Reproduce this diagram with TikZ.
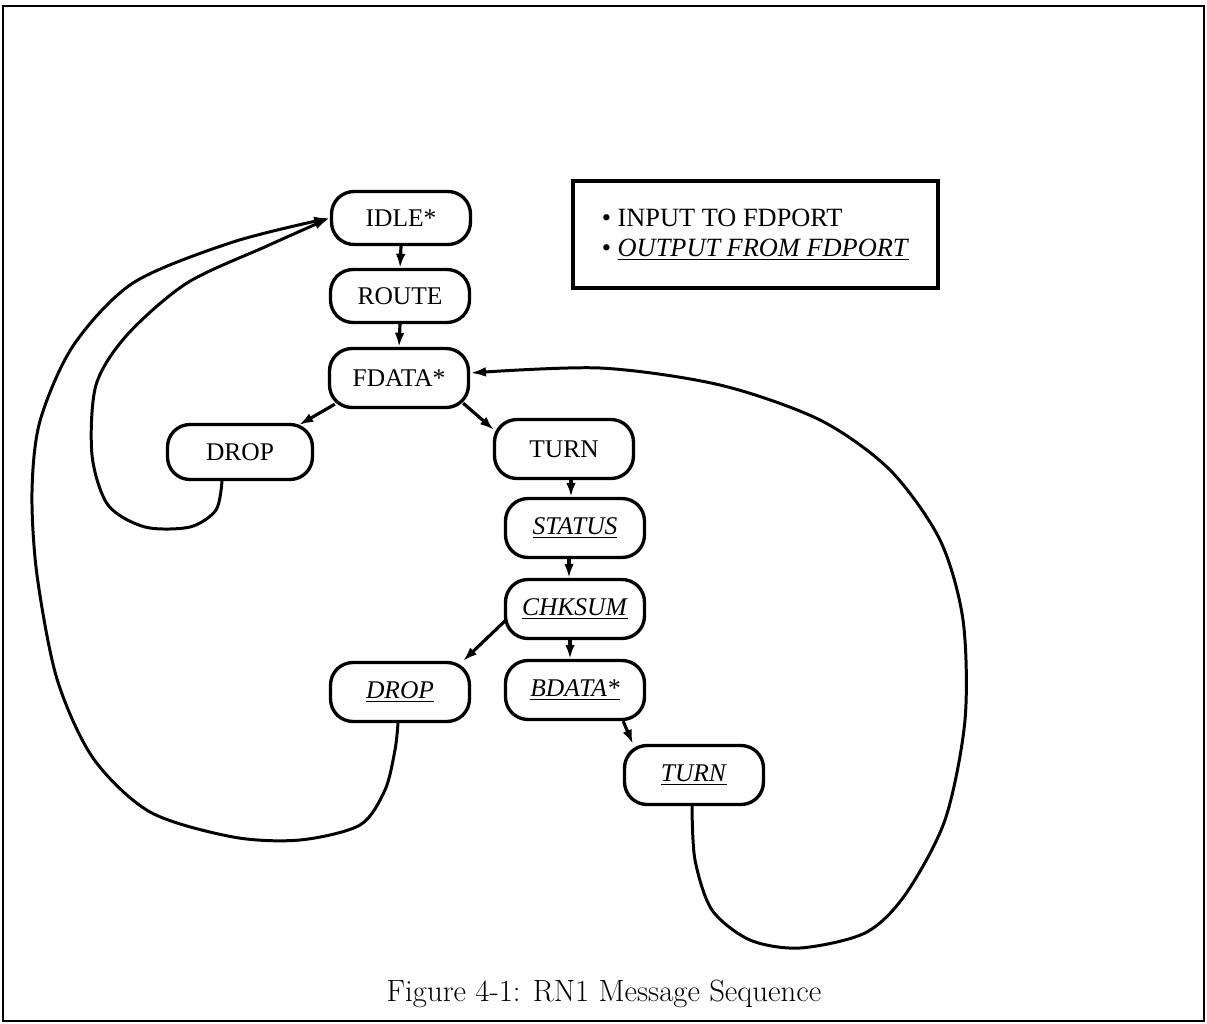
\documentclass[tikz,border=0pt]{standalone}
\usepackage{fontspec}
\usetikzlibrary{arrows.meta}
\newfontfamily\timesfont{Liberation Serif}
\newcommand\outmsg[1]{\underline{\textit{#1}}}

\tikzset{
  msg/.style={draw, line width=1.9pt, rounded corners=0.45cm, minimum width=2.78cm,
    minimum height=1.18cm, font=\timesfont\fontsize{14.5}{16}\selectfont},
  arr/.style={line width=1.8pt, -{Latex[length=8pt,width=5.5pt]}},
  back/.style={line width=1.7pt, -{Latex[length=9pt,width=5.5pt]}}
}

\begin{document}
\begin{tikzpicture}[x=0.02cm, y=-0.02cm]
        \useasboundingbox (0,0) rectangle (1207,1024);
        \draw[line width=1.4pt] (3,6) rectangle (1204,1021);

        \node[msg, minimum height=1.06cm] (idle) at (401,218) {IDLE*};
        \node[msg, minimum height=1.06cm] (route) at (400,296) {ROUTE};
        \node[msg] (fdata) at (399,378) {FDATA*};
        \node[msg, minimum width=2.9cm, minimum height=1.1cm] (drop) at (240,452) {DROP};
        \node[msg] (turn) at (564,449) {TURN};
        \node[msg] (status) at (575,528) {\outmsg{STATUS}};
        \node[msg] (chksum) at (575,609) {\outmsg{CHKSUM}};
        \node[msg] (odrop) at (400,692) {\outmsg{DROP}};
        \node[msg] (bdata) at (575,690) {\outmsg{BDATA*}};
        \node[msg] (oturn) at (694,775) {\outmsg{TURN}};

        \node[draw, line width=1.9pt, minimum width=7.3cm, minimum height=2.14cm, align=left,
          font=\timesfont\fontsize{15}{17}\selectfont] (key) at (755.5,234.5)
          {\textbullet\ INPUT TO FDPORT\\ \textbullet\ \outmsg{OUTPUT FROM FDPORT}};

        \draw[arr] (idle.south) -- (route.north);
        \draw[arr] (route.south) -- (fdata.north);
        \draw[arr] ([shift={(7,-5)}]fdata.south west) -- ([shift={(-15,2)}]drop.north east);
        \draw[arr] ([shift={(-7,-6)}]fdata.south east) -- ([shift={(1,12)}]turn.north west);
        \draw[arr] ([shift={(7,0)}]turn.south) -- ([shift={(-4,0)}]status.north);
        \draw[arr] ([shift={(-6,0)}]status.south) -- ([shift={(-6,0)}]chksum.north);
        \draw[arr] ([shift={(-5,0)}]chksum.south) -- ([shift={(-5,0)}]bdata.north);
        \draw[arr] ([shift={(2,-20)}]chksum.south west) -- ([shift={(-8,0)}]odrop.north east);
        \draw[arr] ([shift={(-23,0)}]bdata.south east) -- ([shift={(10,0)}]oturn.north west);

        % loops back to IDLE* and FDATA*
        \draw[back] plot[smooth] coordinates {([shift={(-18,0)}]drop.south) (216,510) (190,527)
          (145,527) (108,505) (92,455) (96,385) (127,335) (187,283) (267,246) (idle.west)};
        \draw[back] plot[smooth] coordinates {([shift={(-2,0)}]odrop.south) (395,750) (385,790)
          (360,825) (300,840) (233,837) (150,812) (93,758) (57,679) (37,575) (32,492) (40,421)
          (73,346) (133,283) (233,242) (idle.west)};
        \draw[back] plot[smooth] coordinates {([shift={(-2,0)}]oturn.south) (695,860) (712,910)
          (750,940) (800,948) (865,933) (905,895) (945,820) (965,720) (963,620) (940,540)
          (890,470) (820,420) (720,385) (600,368) ([shift={(0,-5)}]fdata.east)};

        \node[font=\fontsize{17.5}{20}\selectfont] (cap) at (604,994) {Figure 4-1: RN1 Message Sequence};
\end{tikzpicture}
\end{document}
